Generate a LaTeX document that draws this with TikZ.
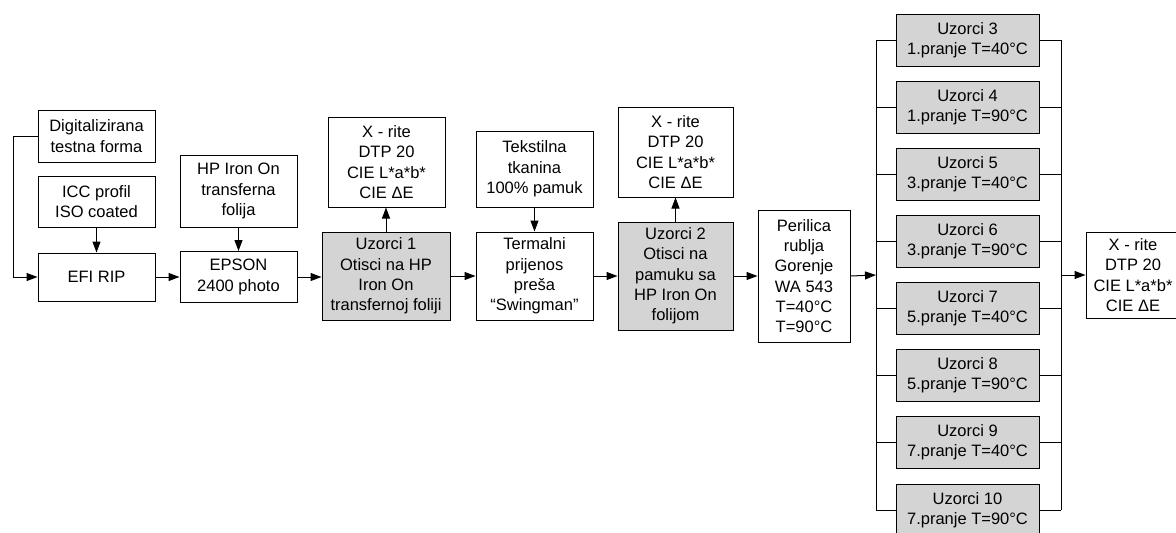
\documentclass[tikz,border=0pt]{standalone}
\usepackage{fontspec}
\setmainfont{Liberation Sans}
\usetikzlibrary{arrows.meta,positioning}
\definecolor{boxgray}{RGB}{212,212,212}
\tikzset{
  box/.style={draw=black, line width=1pt, fill=white, align=center, inner sep=0pt,
    font=\fontsize{16.5}{20.3}\selectfont},
  gbox/.style={box, fill=boxgray},
  arr/.style={line width=1pt, -{Triangle[length=11pt,width=8pt]}},
  ln/.style={line width=1pt}
}
\begin{document}
\begin{tikzpicture}[x=1pt,y=-1pt]
\useasboundingbox (0,0) rectangle (1176,533);
% left column
\node[box, minimum width=117pt, minimum height=52pt] (dig) at (96.5,136) {Digitalizirana\\testna forma};
\node[box, minimum width=117pt, minimum height=51pt] (icc) at (96.5,201.5) {ICC profil\\ISO coated};
\node[box, minimum width=117pt, minimum height=48pt] (efi) at (96.5,277) {EFI RIP};
\node[box, minimum width=117pt, minimum height=72pt] (hp) at (238.5,191) {HP Iron On\\transferna\\folija};
\node[box, minimum width=117pt, minimum height=51pt] (epson) at (238.5,277) {EPSON\\2400 photo};
\node[gbox, minimum width=128pt, minimum height=88pt] (uz1) at (386,276) {Uzorci 1\\Otisci na HP\\Iron On\\transfernoj foliji};
\node[box, minimum width=117pt, minimum height=90pt] (xr1) at (386.5,162) {X - rite\\DTP 20\\CIE L*a*b*\\CIE ΔE};
\node[box, minimum width=117pt, minimum height=76pt] (tek) at (534.5,169) {Tekstilna\\tkanina\\100\% pamuk};
\node[box, minimum width=117pt, minimum height=88pt] (term) at (534.5,276) {Termalni\\prijenos\\preša\\“Swingman”};
\node[gbox, minimum width=115pt, minimum height=108pt] (uz2) at (675.5,276) {Uzorci 2\\Otisci na\\pamuku sa\\HP Iron On\\folijom};
\node[box, minimum width=115pt, minimum height=90pt] (xr2) at (675.5,152) {X - rite\\DTP 20\\CIE L*a*b*\\CIE ΔE};
\node[box, minimum width=92pt, minimum height=132pt] (per) at (804,276) {Perilica\\rublja\\Gorenje\\WA 543\\T=40°C\\T=90°C};
% samples
\node[gbox, minimum width=143pt, minimum height=52pt] (u3) at (967.5,40) {Uzorci 3\\1.pranje T=40°C};
\node[gbox, minimum width=143pt, minimum height=52pt] (u4) at (967.5,107) {Uzorci 4\\1.pranje T=90°C};
\node[gbox, minimum width=143pt, minimum height=52pt] (u5) at (967.5,174) {Uzorci 5\\3.pranje T=40°C};
\node[gbox, minimum width=143pt, minimum height=52pt] (u6) at (967.5,241) {Uzorci 6\\3.pranje T=90°C};
\node[gbox, minimum width=143pt, minimum height=52pt] (u7) at (967.5,308) {Uzorci 7\\5.pranje T=40°C};
\node[gbox, minimum width=143pt, minimum height=52pt] (u8) at (967.5,375) {Uzorci 8\\5.pranje T=90°C};
\node[gbox, minimum width=143pt, minimum height=52pt] (u9) at (967.5,442) {Uzorci 9\\7.pranje T=40°C};
\node[gbox, minimum width=143pt, minimum height=52pt] (u10) at (967.5,510) {Uzorci 10\\7.pranje T=90°C};
\node[box, minimum width=94pt, minimum height=86pt] (xr3) at (1133,275) {X - rite\\DTP 20\\CIE L*a*b*\\CIE ΔE};
% bus coordinates
\coordinate (busL) at (876,275);
\coordinate (busR) at (1061,275);
\coordinate (dlft) at (13,136);
% connectors
\draw[arr] (dig.west) -- (dlft) |- (efi.west);
\draw[arr] (icc.south) -- (efi.north);
\draw[arr] (hp.south) -- (epson.north);
\draw[arr] (efi.east) -- (epson.west |- efi.east);
\draw[arr] (epson.east) -- (uz1.west |- epson.east);
\draw[arr] (uz1.north) -- (xr1.south -| uz1.north);
\draw[arr] (uz1.east) -- (term.west);
\draw[arr] (tek.south) -- (term.north -| tek.south);
\draw[arr] (term.east) -- (uz2.west |- term.east);
\draw[arr] (uz2.north) -- (xr2.south);
\draw[arr] (uz2.east) -- (per.west);
\draw[arr] (per.east) -- (busL);
\draw[ln] (u3.west -| busL) -- (u10.west -| busL);
\draw[ln] (u3.east -| busR) -- (u10.east -| busR);
\foreach \n in {u3,u4,u5,u6,u7,u8,u9,u10}{
  \draw[ln] (\n.west) -- (\n.west -| busL);
  \draw[ln] (\n.east) -- (\n.east -| busR);
}
\draw[arr] (busR) -- (xr3.west);
\end{tikzpicture}
\end{document}
